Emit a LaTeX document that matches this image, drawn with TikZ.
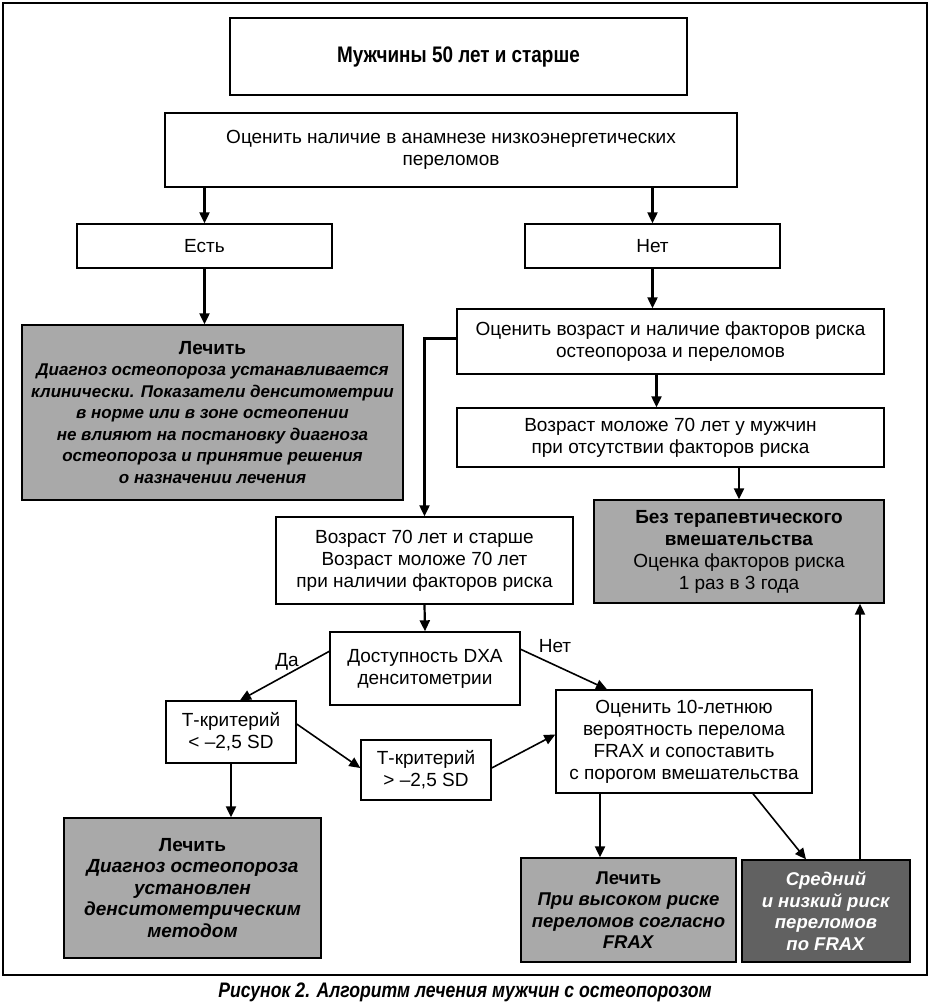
\documentclass[tikz,border=0pt]{standalone}
\usepackage{fontspec}
\setmainfont{Liberation Sans}
\newfontfamily\narrowfont[FakeStretch=0.84]{Liberation Sans}
\usetikzlibrary{arrows.meta}
\definecolor{lightgrey}{HTML}{A9A9A9}
\definecolor{darkgrey}{HTML}{616161}
\tikzset{
  box/.style={draw, line width=1.4pt, align=center, inner sep=2pt, font=\fontsize{19}{22}\selectfont},
  greybox/.style={box, fill=lightgrey},
  darkbox/.style={box, fill=darkgrey, text=white},
  arr/.style={-{Triangle[length=11pt,width=10pt]}, line width=2.2pt},
  thinarr/.style={-{Triangle[length=11pt,width=10pt]}, line width=1.6pt}
}

\begin{document}
\begin{tikzpicture}[x=1pt,y=-1pt]
\useasboundingbox (0,0) rectangle (930,1005);
\draw [line width=1.4pt] (3,3) rectangle (927,975);

\node [box, minimum width=457pt, minimum height=77pt] (men) at (458.5,56.5) {\narrowfont\bfseries\fontsize{22.5}{26}\selectfont Мужчины 50 лет и старше};
\node [box, minimum width=572pt, minimum height=74pt] (history) at (451,150) {Оценить наличие в анамнезе низкоэнергетических\\переломов};
\node [box, minimum width=255pt, minimum height=44pt] (yes) at (204.5,246) {Есть};
\node [box, minimum width=255pt, minimum height=44pt] (no) at (652.5,246) {Нет};
\node [greybox, minimum width=381pt, minimum height=175pt, font=\fontsize{17}{21.5}\selectfont] (treatclin) at (212.5,412.5) {\textbf{\fontsize{19}{21.5}\selectfont Лечить}\\\textbf{\itshape Диагноз остеопороза устанавливается}\\\textbf{\itshape клинически. Показатели денситометрии}\\\textbf{\itshape в норме или в зоне остеопении}\\\textbf{\itshape не влияют на постановку диагноза}\\\textbf{\itshape остеопороза и принятие решения}\\\textbf{\itshape о назначении лечения}};
\node [box, minimum width=427pt, minimum height=65pt] (assess) at (670.5,341.5) {Оценить возраст и наличие факторов риска\\остеопороза и переломов};
\node [box, minimum width=427pt, minimum height=59pt] (young) at (670.5,437.5) {Возраст моложе 70 лет у мужчин\\при отсутствии факторов риска};
\node [greybox, minimum width=290pt, minimum height=103pt] (nointerv) at (739,551.5) {\textbf{Без терапевтического}\\\textbf{вмешательства}\\Оценка факторов риска\\1 раз в 3 года};
\node [box, minimum width=297pt, minimum height=87pt] (old) at (424.5,560.5) {Возраст 70 лет и старше\\Возраст моложе 70 лет\\при наличии факторов риска};
\node [box, minimum width=190pt, minimum height=73pt] (dxa) at (425,668.5) {Доступность DXA\\денситометрии};
\node [box, minimum width=130pt, minimum height=62pt] (tlow) at (231,732) {Т-критерий\\< –2,5 SD};
\node [box, minimum width=130pt, minimum height=60pt] (thigh) at (426,770) {Т-критерий\\> –2,5 SD};
\node [box, minimum width=256pt, minimum height=103pt] (frax) at (684,741.5) {Оценить 10-летнюю\\вероятность перелома\\FRAX и сопоставить\\с порогом вмешательства};
\node [greybox, minimum width=257pt, minimum height=140pt, font=\fontsize{19}{21.5}\selectfont] (treatdens) at (192.5,888) {\textbf{Лечить}\\\textbf{\itshape Диагноз остеопороза}\\\textbf{\itshape установлен}\\\textbf{\itshape денситометрическим}\\\textbf{\itshape методом}};
\node [greybox, minimum width=215pt, minimum height=104pt, font=\fontsize{18.5}{21.5}\selectfont] (treatfrax) at (628.5,910) {\textbf{Лечить}\\\textbf{\itshape При высоком риске}\\\textbf{\itshape переломов согласно}\\\textbf{\itshape FRAX}};
\node [darkbox, minimum width=168pt, minimum height=102pt, font=\fontsize{18.5}{21.5}\selectfont] (lowrisk) at (826,911) {\textbf{\itshape Средний}\\\textbf{\itshape и низкий риск}\\\textbf{\itshape переломов}\\\textbf{\itshape по FRAX}};

\draw [arr] (yes.north |- history.south) -- (yes.north);
\draw [arr] (no.north |- history.south) -- (no.north);
\draw [arr] (yes.south) -- (yes.south |- treatclin.north);
\draw [arr] (no.south) -- (no.south |- assess.north);
\draw [arr] ([yshift=3pt]assess.west) -| (old.north);
\draw [arr] ([xshift=-14pt]assess.south) -- ([xshift=-14pt]young.north);
\draw [arr] (nointerv.north |- young.south) -- (nointerv.north);
\draw [arr] (old.south) -- (dxa.north);
\draw [thinarr] ([yshift=-20pt]dxa.north west) -- ([xshift=9pt]tlow.north);
\draw [thinarr] ([yshift=-18pt]dxa.north east) -- ([xshift=-77pt]frax.north);
\draw [thinarr] ([yshift=8pt]tlow.east) -- ([yshift=2pt]thigh.west);
\draw [thinarr] ([yshift=2pt]thigh.east) -- ([yshift=7pt]frax.west);
\draw [arr] (tlow.south) -- (tlow.south |- treatdens.north);
\draw [arr] ([xshift=-84pt]frax.south) -- ([xshift=-84pt]frax.south |- treatfrax.north);
\draw [thinarr] ([xshift=69pt]frax.south) -- ([xshift=-20pt]lowrisk.north);
\draw [arr] ([xshift=34pt]lowrisk.north) -- ([xshift=34pt]lowrisk.north |- nointerv.south);

\node [font=\fontsize{19}{22}\selectfont] (yeslabel) at (287,662) {Да};
\node [font=\fontsize{19}{22}\selectfont] (nolabel) at (555,646) {Нет};
\node (caption) at (465,992) {\narrowfont\bfseries\itshape\fontsize{21}{24}\selectfont Рисунок 2. Алгоритм лечения мужчин с остеопорозом};
\end{tikzpicture}
\end{document}
